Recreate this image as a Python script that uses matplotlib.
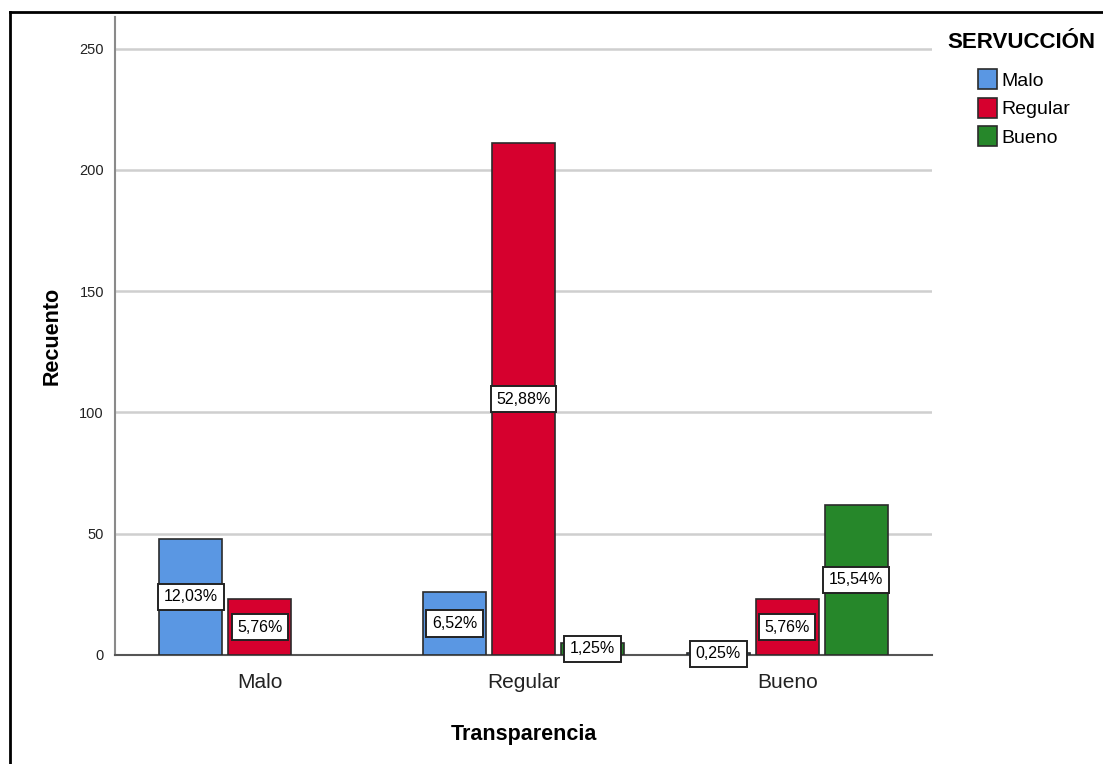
import numpy as np
import matplotlib.pyplot as plt
from matplotlib.patches import Patch
from matplotlib.lines import Line2D

plt.rcParams['font.family'] = ['Liberation Sans', 'DejaVu Sans']

categories = ['Malo', 'Regular', 'Bueno']
series = ['Malo', 'Regular', 'Bueno']
counts = {
    'Malo':    [48, 26, 1],
    'Regular': [23, 211, 23],
    'Bueno':   [0, 5, 62],
}
pct_labels = {
    'Malo':    ['12,03%', '6,52%', '0,25%'],
    'Regular': ['5,76%', '52,88%', '5,76%'],
    'Bueno':   [None, '1,25%', '15,54%'],
}
colors = {'Malo': '#5a97e3', 'Regular': '#d6002e', 'Bueno': '#26872a'}

fig = plt.figure(figsize=(11.03, 7.64), dpi=100)
ax = fig.add_axes([115 / 1103, 109 / 764, 817 / 1103, 638 / 764])

# outer frame (left and top only visible)
fig.add_artist(Line2D([10 / 1103, 10 / 1103], [0, 1 - 12 / 764], color='black', lw=2))
fig.add_artist(Line2D([10 / 1103, 1], [1 - 12 / 764, 1 - 12 / 764], color='black', lw=2))

x = np.arange(len(categories))
slot = 0.261
width = 0.239
for i, s in enumerate(series):
    pos = x + (i - 1) * slot
    vals = np.array(counts[s])
    mask = vals > 0
    ax.bar(pos[mask], vals[mask], width=width, color=colors[s],
           edgecolor='#2b2b2b', linewidth=1.2, zorder=3)
    for p, v, lab in zip(pos, vals, pct_labels[s]):
        if lab is None:
            continue
        ax.text(p, v / 2, lab, ha='center', va='center', fontsize=11.5,
                zorder=5,
                bbox=dict(boxstyle='square,pad=0.35', fc='white',
                          ec='#222222', lw=1.4))

ax.set_xlim(-0.549, 2.549)
ax.set_ylim(0, 263)
ax.set_yticks([0, 50, 100, 150, 200, 250])
ax.set_xticks(x)
ax.set_xticklabels(categories, fontsize=15, color='#222222')
ax.tick_params(axis='y', labelsize=10.5, length=0, pad=8, colors='#222222')
ax.tick_params(axis='x', length=0, pad=13)
ax.grid(axis='y', color='#cfcfcf', lw=1.8, zorder=0)
ax.set_axisbelow(True)
for sp in ['top', 'right']:
    ax.spines[sp].set_visible(False)
ax.spines['left'].set_color('#8a8a8a')
ax.spines['left'].set_linewidth(1.5)
ax.spines['bottom'].set_color('#555555')
ax.spines['bottom'].set_linewidth(1.5)

ax.set_xlabel('Transparencia', fontsize=15.5, fontweight='bold', labelpad=23)
ax.set_ylabel('Recuento', fontsize=15.5, fontweight='bold', labelpad=12)

# legend: title as separate text, entries below
fig.text(1021 / 1103, 1 - 42 / 764, 'SERVUCCIÓN', ha='center', va='center',
         fontsize=16, fontweight='bold')
handles = [Patch(facecolor=colors[s], edgecolor='#2b2b2b', lw=1.2, label=s) for s in series]
leg = fig.legend(handles=handles, loc='upper left',
                 bbox_to_anchor=(960 / 1103, 1 - 52 / 764), frameon=False,
                 fontsize=14, handlelength=1.0, handleheight=1.2,
                 handletextpad=0.25, labelspacing=0.4)

fig.savefig('out.png', dpi=100)
